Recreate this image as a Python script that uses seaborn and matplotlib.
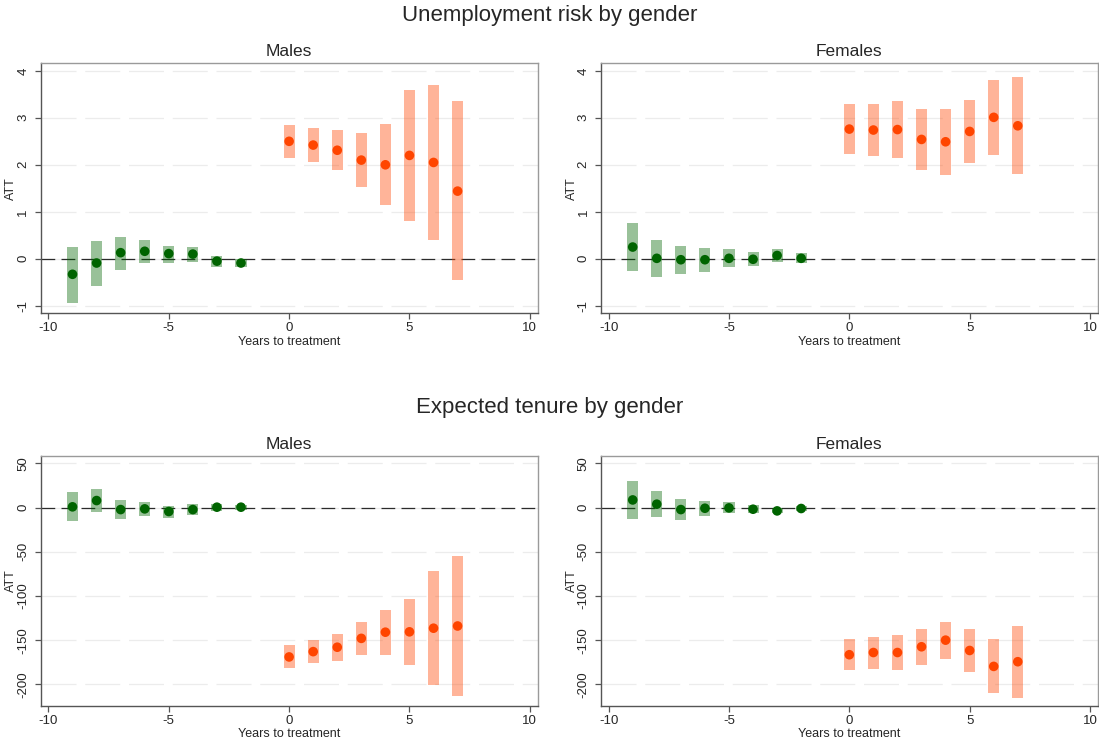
import matplotlib
matplotlib.use("Agg")
import matplotlib.pyplot as plt
import seaborn as sns
import pandas as pd

# Event-time grid
years_pre = [-9, -8, -7, -6, -5, -4, -3, -2]
years_post = [0, 1, 2, 3, 4, 5, 6, 7]

# Unemployment risk, males
unemp_m_pre_att = [-0.33, -0.09, 0.13, 0.16, 0.11, 0.10, -0.05, -0.09]
unemp_m_pre_lo = [-0.94, -0.58, -0.23, -0.10, -0.08, -0.06, -0.17, -0.18]
unemp_m_pre_hi = [0.26, 0.38, 0.47, 0.40, 0.28, 0.25, 0.06, -0.01]
unemp_m_post_att = [2.50, 2.42, 2.31, 2.10, 2.00, 2.20, 2.05, 1.44]
unemp_m_post_lo = [2.15, 2.05, 1.89, 1.53, 1.14, 0.81, 0.39, -0.46]
unemp_m_post_hi = [2.84, 2.79, 2.73, 2.67, 2.86, 3.59, 3.69, 3.35]

# Unemployment risk, females
unemp_f_pre_att = [0.25, 0.01, -0.02, -0.02, 0.01, -0.01, 0.07, 0.01]
unemp_f_pre_lo = [-0.26, -0.38, -0.32, -0.28, -0.18, -0.16, -0.06, -0.08]
unemp_f_pre_hi = [0.76, 0.40, 0.28, 0.23, 0.21, 0.15, 0.21, 0.13]
unemp_f_post_att = [2.76, 2.74, 2.75, 2.54, 2.49, 2.71, 3.01, 2.83]
unemp_f_post_lo = [2.22, 2.18, 2.14, 1.88, 1.78, 2.04, 2.21, 1.80]
unemp_f_post_hi = [3.30, 3.30, 3.35, 3.19, 3.19, 3.38, 3.81, 3.87]

# Expected tenure, males
tenure_m_pre_att = [0.8, 7.9, -2.3, -1.5, -4.5, -2.3, 0.4, 0.4]
tenure_m_pre_lo = [-15.0, -4.9, -12.8, -9.4, -11.7, -8.3, -3.4, -2.3]
tenure_m_pre_hi = [17.3, 20.7, 8.6, 6.4, 1.9, 4.1, 3.8, 2.6]
tenure_m_post_att = [-169.0, -163.0, -158.0, -148.0, -141.0, -140.6, -136.5, -134.0]
tenure_m_post_lo = [-182.0, -176.0, -174.0, -167.0, -167.0, -178.0, -200.4, -213.5]
tenure_m_post_hi = [-156.0, -150.0, -142.5, -129.0, -116.0, -103.0, -72.0, -54.5]

# Expected tenure, females
tenure_f_pre_att = [8.6, 3.8, -2.3, -0.8, -0.4, -1.9, -3.8, -1.1]
tenure_f_pre_lo = [-12.8, -10.9, -14.3, -9.4, -6.4, -6.4, -6.5, -3.8]
tenure_f_pre_hi = [30.0, 18.4, 9.4, 7.9, 6.0, 2.6, -1.0, 1.5]
tenure_f_post_att = [-166.5, -164.0, -164.0, -157.5, -150.0, -161.7, -179.7, -174.4]
tenure_f_post_lo = [-184.0, -183.0, -183.5, -177.8, -171.8, -186.5, -210.2, -215.0]
tenure_f_post_hi = [-148.5, -145.9, -144.7, -137.6, -129.0, -137.0, -148.9, -133.8]

x_ticks = [-10, -5, 0, 5, 10]
unemp_ticks = [-1, 0, 1, 2, 3, 4]
tenure_ticks = [-200, -150, -100, -50, 0, 50]

PRE_COLOR = "#006400"
POST_COLOR = "#ff4500"

sns.set_theme(style="white")
plt.rcParams["font.family"] = ["Liberation Sans", "DejaVu Sans"]

fig = plt.figure(figsize=(10.99, 7.40), dpi=100)

W, H = 1099.0, 740.0
ax_w = 497.0 / W
ax_h = 250.0 / H
lefts = [40.5 / W, 600.7 / W]
bottoms = [1 - 313.3 / H, 1 - 706.0 / H]


def make_frame(x, att, lo, hi, period):
    return pd.DataFrame({"year": x, "att": att, "lo": lo, "hi": hi, "period": period})


def draw_panel(ax, pre, post, yticks, ylim, title):
    data = pd.concat([pre, post], ignore_index=True)
    # reference line at zero
    ax.axhline(0, color="#2b2b2b", lw=0.9, ls=(0, (11, 5)), zorder=1)
    # confidence intervals as translucent bars
    for period, color in (("pre", PRE_COLOR), ("post", POST_COLOR)):
        sub = data[data["period"] == period]
        ax.bar(sub["year"], sub["hi"] - sub["lo"], bottom=sub["lo"], width=0.46,
               color=color, alpha=0.4, linewidth=0, zorder=2)
    sns.scatterplot(data=data, x="year", y="att", hue="period",
                    palette={"pre": PRE_COLOR, "post": POST_COLOR},
                    s=48, linewidth=0, legend=False, ax=ax, zorder=3)
    ax.set_xlim(-10.33, 10.32)
    ax.set_ylim(*ylim)
    ax.set_xticks(x_ticks)
    ax.set_xticklabels([str(t) for t in x_ticks])
    ax.set_yticks(yticks)
    ax.set_yticklabels([str(t) for t in yticks], rotation=90, va="center")
    ax.set_xlabel("Years to treatment", fontsize=9, labelpad=1)
    ax.set_ylabel("ATT", fontsize=9)
    ax.yaxis.set_label_coords(-0.0465, 0.5)
    ax.set_title(title, fontsize=12.5, pad=5)
    ax.tick_params(axis="both", which="major", labelsize=9.5, length=4.5, width=0.9,
                   color="#555555", direction="out", bottom=True, left=True, pad=2)
    ax.tick_params(axis="y", pad=3.5)
    for t in yticks:
        ax.axhline(t, color="#ececec", lw=0.9, ls=(0, (28, 7)), zorder=0)
    for side in ("left", "bottom"):
        ax.spines[side].set_color("#555555")
        ax.spines[side].set_linewidth(1.0)
    for side in ("top", "right"):
        ax.spines[side].set_color("#9a9a9a")
        ax.spines[side].set_linewidth(1.0)


panels = [
    (0, 0, make_frame(years_pre, unemp_m_pre_att, unemp_m_pre_lo, unemp_m_pre_hi, "pre"),
     make_frame(years_post, unemp_m_post_att, unemp_m_post_lo, unemp_m_post_hi, "post"),
     unemp_ticks, (-1.16, 4.16), "Males"),
    (0, 1, make_frame(years_pre, unemp_f_pre_att, unemp_f_pre_lo, unemp_f_pre_hi, "pre"),
     make_frame(years_post, unemp_f_post_att, unemp_f_post_lo, unemp_f_post_hi, "post"),
     unemp_ticks, (-1.16, 4.16), "Females"),
    (1, 0, make_frame(years_pre, tenure_m_pre_att, tenure_m_pre_lo, tenure_m_pre_hi, "pre"),
     make_frame(years_post, tenure_m_post_att, tenure_m_post_lo, tenure_m_post_hi, "post"),
     tenure_ticks, (-224.5, 58.3), "Males"),
    (1, 1, make_frame(years_pre, tenure_f_pre_att, tenure_f_pre_lo, tenure_f_pre_hi, "pre"),
     make_frame(years_post, tenure_f_post_att, tenure_f_post_lo, tenure_f_post_hi, "post"),
     tenure_ticks, (-224.5, 58.3), "Females"),
]

for row, col, pre, post, yticks, ylim, title in panels:
    ax = fig.add_axes([lefts[col], bottoms[row], ax_w, ax_h])
    draw_panel(ax, pre, post, yticks, ylim, title)

fig.text(0.5, 1 - 15.5 / H, "Unemployment risk by gender", ha="center", va="center", fontsize=16)
fig.text(0.5, 1 - 407.5 / H, "Expected tenure by gender", ha="center", va="center", fontsize=16)

fig.savefig("out.png", dpi=100, facecolor="white")
